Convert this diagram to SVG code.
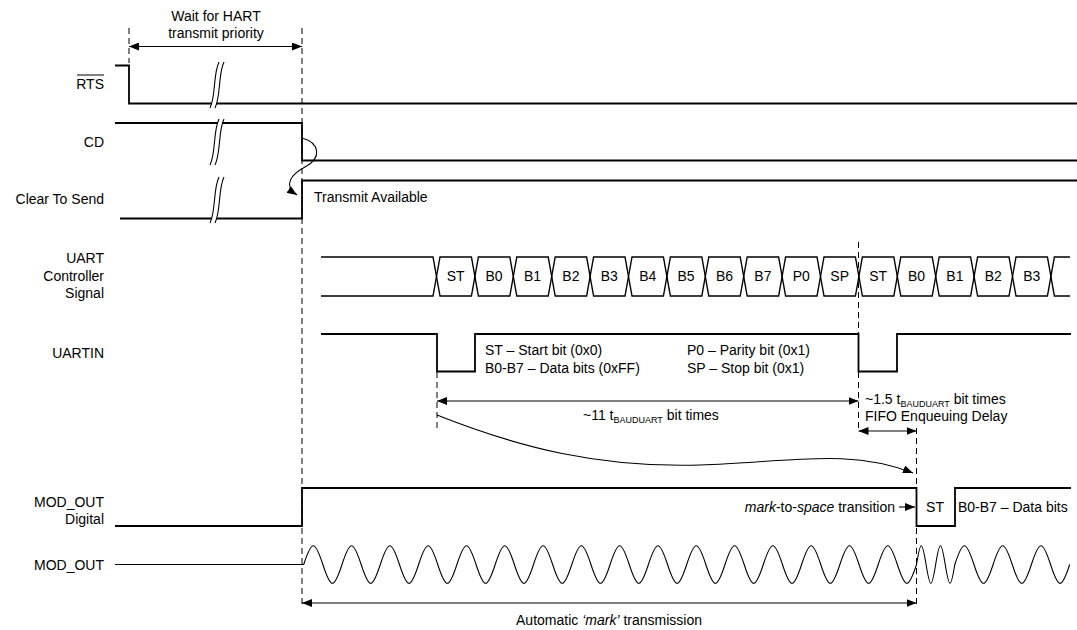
<svg xmlns="http://www.w3.org/2000/svg" width="1077" height="630" viewBox="0 0 1077 630">
<style>
text{font-family:"Liberation Sans",Arial,sans-serif;font-size:14px;fill:#000}
.lbl{text-anchor:end}
.mid{text-anchor:middle}
.sig{fill:none;stroke:#000;stroke-width:1.8}
.bus{fill:none;stroke:#000;stroke-width:1.4}
.dash{fill:none;stroke:#000;stroke-width:1;stroke-dasharray:6,4}
.arr{fill:none;stroke:#000;stroke-width:1.1}
.wave{fill:none;stroke:#000;stroke-width:1.1}
.brk{fill:#fff;stroke:none}
.brkl{fill:none;stroke:#000;stroke-width:1.1}
.sub{font-size:9px}
.it{font-style:italic}
</style>
<defs>
<marker id="ah" viewBox="0 0 10 8" refX="10" refY="4" markerWidth="10" markerHeight="8" markerUnits="userSpaceOnUse" orient="auto-start-reverse">
<path d="M0,0 L10,4 L0,8 z" fill="#000"/>
</marker>
</defs>
<rect width="1077" height="630" fill="#fff"/>

<g id="guides">
<line class="dash" x1="129" y1="28" x2="129" y2="63"/>
<line class="dash" x1="302" y1="28" x2="302" y2="605"/>
<line class="dash" x1="858.5" y1="242" x2="858.5" y2="432"/>
<line class="dash" x1="437" y1="372" x2="437" y2="430"/>
<line class="dash" x1="916.5" y1="428" x2="916.5" y2="605"/>
</g>

<g id="wait-label">
<text class="mid" x="216" y="21">Wait for HART</text>
<text class="mid" x="216" y="38">transmit priority</text>
</g>

<g id="rts">
<text class="lbl" x="104" y="89">RTS</text>
<line x1="77" y1="75" x2="104" y2="75" stroke="#000" stroke-width="1"/>
<path class="sig" d="M115,65.5 H129 V103.5 H1077"/>
<path class="brk" d="M219,62 C213,74 216,96 210,108 L215,108 C221,96 218,74 224,62 z"/>
<path class="brkl" d="M219,62 C213,74 216,96 210,108 M224,62 C218,74 221,96 215,108"/>
</g>

<g id="cd">
<text class="lbl" x="104" y="147">CD</text>
<path class="sig" d="M115,123 H302 V160.5 H1077"/>
<path class="brk" d="M219,119 C213,131 216,153 210,165 L215,165 C221,153 218,131 224,119 z"/>
<path class="brkl" d="M219,119 C213,131 216,153 210,165 M224,119 C218,131 221,153 215,165"/>
</g>

<g id="cts">
<text class="lbl" x="104" y="204">Clear To Send</text>
<path class="sig" d="M120,218.5 H302 V180.5 H1077"/>
<path class="brk" d="M219,177 C213,189 216,211 210,223 L215,223 C221,211 218,189 224,177 z"/>
<path class="brkl" d="M219,177 C213,189 216,211 210,223 M224,177 C218,189 221,211 215,223"/>
<text x="314" y="202">Transmit Available</text>
</g>

<g id="uart-controller">
<text class="lbl" x="104" y="263">UART</text>
<text class="lbl" x="104" y="281">Controller</text>
<text class="lbl" x="104" y="298">Signal</text>
<path class="bus" d="M321,257 H433 L436.5,276.5 L433,296 H321"/>
<polygon class="bus" points="436.5,276.5 440,257 471.4,257 474.9,276.5 471.4,296 440,296"/>
<polygon class="bus" points="474.9,276.5 478.4,257 509.8,257 513.3,276.5 509.8,296 478.4,296"/>
<polygon class="bus" points="513.3,276.5 516.8,257 548.2,257 551.7,276.5 548.2,296 516.8,296"/>
<polygon class="bus" points="551.7,276.5 555.2,257 586.6,257 590.1,276.5 586.6,296 555.2,296"/>
<polygon class="bus" points="590.1,276.5 593.6,257 625,257 628.5,276.5 625,296 593.6,296"/>
<polygon class="bus" points="628.5,276.5 632,257 663.4,257 666.9,276.5 663.4,296 632,296"/>
<polygon class="bus" points="666.9,276.5 670.4,257 701.8,257 705.3,276.5 701.8,296 670.4,296"/>
<polygon class="bus" points="705.3,276.5 708.8,257 740.2,257 743.7,276.5 740.2,296 708.8,296"/>
<polygon class="bus" points="743.7,276.5 747.2,257 778.6,257 782.1,276.5 778.6,296 747.2,296"/>
<polygon class="bus" points="782.1,276.5 785.6,257 817,257 820.5,276.5 817,296 785.6,296"/>
<polygon class="bus" points="820.5,276.5 824,257 855.4,257 858.9,276.5 855.4,296 824,296"/>
<polygon class="bus" points="858.9,276.5 862.4,257 893.8,257 897.3,276.5 893.8,296 862.4,296"/>
<polygon class="bus" points="897.3,276.5 900.8,257 932.2,257 935.7,276.5 932.2,296 900.8,296"/>
<polygon class="bus" points="935.7,276.5 939.2,257 970.6,257 974.1,276.5 970.6,296 939.2,296"/>
<polygon class="bus" points="974.1,276.5 977.6,257 1009,257 1012.5,276.5 1009,296 977.6,296"/>
<polygon class="bus" points="1012.5,276.5 1016,257 1047.4,257 1050.9,276.5 1047.4,296 1016,296"/>
<path class="bus" d="M1070,257 H1054.4 L1050.9,276.5 L1054.4,296 H1070"/>
<text class="mid" x="455.7" y="281">ST</text>
<text class="mid" x="494.1" y="281">B0</text>
<text class="mid" x="532.5" y="281">B1</text>
<text class="mid" x="570.9" y="281">B2</text>
<text class="mid" x="609.3" y="281">B3</text>
<text class="mid" x="647.7" y="281">B4</text>
<text class="mid" x="686.1" y="281">B5</text>
<text class="mid" x="724.5" y="281">B6</text>
<text class="mid" x="762.9" y="281">B7</text>
<text class="mid" x="801.3" y="281">P0</text>
<text class="mid" x="839.7" y="281">SP</text>
<text class="mid" x="878.1" y="281">ST</text>
<text class="mid" x="916.5" y="281">B0</text>
<text class="mid" x="954.9" y="281">B1</text>
<text class="mid" x="993.3" y="281">B2</text>
<text class="mid" x="1031.7" y="281">B3</text>
</g>

<g id="uartin">
<text class="lbl" x="104" y="358">UARTIN</text>
<path class="sig" d="M321,334 H437 V371.5 H475 V334 H858.5 V371.5 H897 V334 H1071"/>
<text x="485" y="355">ST – Start bit (0x0)</text>
<text x="485" y="373">B0-B7 – Data bits (0xFF)</text>
<text x="687" y="355">P0 – Parity bit (0x1)</text>
<text x="687" y="373">SP – Stop bit (0x1)</text>
<text x="583" y="420">~11 t<tspan class="sub" dy="3">BAUDUART</tspan><tspan dy="-3"> bit times</tspan></text>
<text x="865" y="404">~1.5 t<tspan class="sub" dy="3">BAUDUART</tspan><tspan dy="-3"> bit times</tspan></text>
<text x="865" y="421">FIFO Enqueuing Delay</text>
</g>

<g id="mod-out-digital">
<text class="lbl" x="104" y="507">MOD_OUT</text>
<text class="lbl" x="104" y="524">Digital</text>
<path class="sig" d="M115,526 H302 V488 H916.5 V526 H955 V488 H1071"/>
<text class="lbl" x="895" y="512"><tspan class="it">mark</tspan>-to-<tspan class="it">space</tspan> transition</text>
<text class="mid" x="935" y="512">ST</text>
<text x="958" y="512">B0-B7 – Data bits</text>
</g>

<g id="mod-out">
<text class="lbl" x="104" y="570">MOD_OUT</text>
<path class="wave" d="M115,564.5 H303.7 c8.13,-25.1 11.02,-25.1 19.15,0 s11.02,25.1 19.15,0 s11.02,-25.1 19.15,0 s11.02,25.1 19.15,0 s11.02,-25.1 19.15,0 s11.02,25.1 19.15,0 s11.02,-25.1 19.15,0 s11.02,25.1 19.15,0 s11.02,-25.1 19.15,0 s11.02,25.1 19.15,0 s11.02,-25.1 19.15,0 s11.02,25.1 19.15,0 s11.02,-25.1 19.15,0 s11.02,25.1 19.15,0 s11.02,-25.1 19.15,0 s11.02,25.1 19.15,0 s11.02,-25.1 19.15,0 s11.02,25.1 19.15,0 s11.02,-25.1 19.15,0 s11.02,25.1 19.15,0 s11.02,-25.1 19.15,0 s11.02,25.1 19.15,0 s11.02,-25.1 19.15,0 s11.02,25.1 19.15,0 s11.02,-25.1 19.15,0 s11.02,25.1 19.15,0 s11.02,-25.1 19.15,0 s11.02,25.1 19.15,0 s11.02,-25.1 19.15,0 s11.02,25.1 19.15,0 s11.02,-25.1 19.15,0 s11.02,25.1 19.15,0 c4.06,-25.1 5.51,-25.1 9.575,0 s5.51,25.1 9.575,0 s5.51,-25.1 9.575,0 s5.51,25.1 9.575,0 c8.13,-25.1 11.02,-25.1 19.15,0 s11.02,25.1 19.15,0 s11.02,-25.1 19.15,0 s11.02,25.1 19.15,0 s11.02,-25.1 19.15,0 s11.02,25.1 19.15,0"/>
<text class="mid" x="609" y="625">Automatic <tspan class="it">‘mark’</tspan> transmission</text>
</g>

<g id="connectors">
<line class="arr" x1="129" y1="46.5" x2="302" y2="46.5" marker-start="url(#ah)" marker-end="url(#ah)"/>
<path class="arr" d="M302,138 C320,143 322,158 305,167 C292,174 282,185 297,195" marker-end="url(#ah)"/>
<line class="arr" x1="437" y1="401" x2="858.5" y2="401" marker-start="url(#ah)" marker-end="url(#ah)"/>
<line class="arr" x1="858.5" y1="431" x2="916.5" y2="431" marker-start="url(#ah)" marker-end="url(#ah)"/>
<path class="arr" d="M437,415 C520,448 600,468 700,465 C790,462 850,448 913,473" marker-end="url(#ah)"/>
<line class="arr" x1="899" y1="507" x2="915" y2="507" marker-end="url(#ah)"/>
<line class="arr" x1="302" y1="603" x2="916.5" y2="603" marker-start="url(#ah)" marker-end="url(#ah)"/>
</g>
</svg>
